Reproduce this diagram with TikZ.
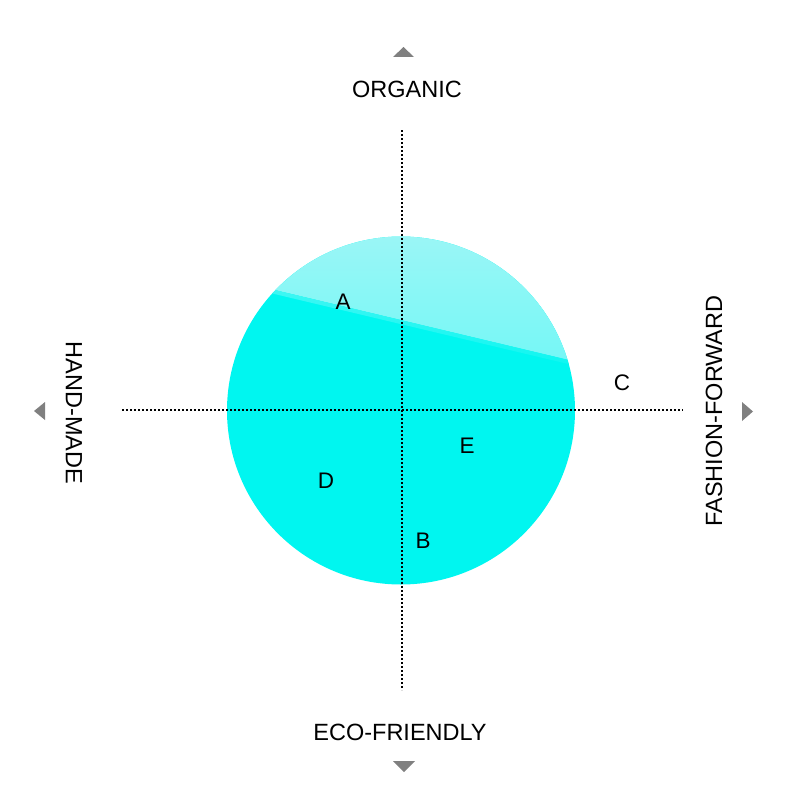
\documentclass[tikz,border=0pt]{standalone}
\usepackage{fontspec}
\setmainfont{Liberation Sans}
\definecolor{ballcyan}{RGB}{0,246,240}
\definecolor{glosstop}{RGB}{178,246,246}
\definecolor{glossbot}{RGB}{110,247,246}
\definecolor{tri}{RGB}{128,128,128}
\tikzset{
  axisline/.style={black, line width=2.6pt, dash pattern=on 2.4pt off 1.6pt},
  axislabel/.style={font=\fontsize{23.5}{26}\selectfont, inner sep=0pt},
  ptlabel/.style={font=\fontsize{22.5}{24}\selectfont, inner sep=0pt},
  tri/.style={fill=tri, draw=none}
}
\begin{document}
\begin{tikzpicture}[x=1pt,y=-1pt]
\useasboundingbox (0,0) rectangle (800,800);
% circle
\fill[ballcyan] (401,410.5) circle (174);
\begin{scope}
  \clip (401,410.5) circle (174);
  \begin{scope}[shift={(401,410.5)}, rotate=-13.4]
    \shade[top color=glosstop, bottom color=glossbot] (-260,-200) rectangle (260,-88);
    \shade[top color=glossbot!70!ballcyan, bottom color=ballcyan] (-260,-88) rectangle (260,-84);
  \end{scope}
\end{scope}
% axes
\coordinate (vt) at (402,130);
\coordinate (vb) at (402,690);
\coordinate (hl) at (122,410);
\coordinate (hr) at (683,410);
\draw[axisline] (vt) -- (vb);
\draw[axisline] (hl) -- (hr);
% triangles
\fill[tri] (393,57) -- (414,57) -- (403.5,47) -- cycle;
\fill[tri] (393,761) -- (415,761) -- (404,772) -- cycle;
\fill[tri] (45,402) -- (45,420) -- (34,411) -- cycle;
\fill[tri] (742,402) -- (742,421) -- (753,411.5) -- cycle;
% axis labels
\node[axislabel] (org) at (407,89) {ORGANIC};
\node[axislabel] (eco) at (400,732) {ECO-FRIENDLY};
\node[axislabel, rotate=-90] (hand) at (74,413) {HAND-MADE};
\node[axislabel, rotate=90] (fash) at (714,411) {FASHION-FORWARD};
% points
\node[ptlabel] (A) at (343,302) {A};
\node[ptlabel] (C) at (622,383) {C};
\node[ptlabel] (E) at (467,446) {E};
\node[ptlabel] (D) at (326,481) {D};
\node[ptlabel] (B) at (423,541) {B};
\end{tikzpicture}
\end{document}
